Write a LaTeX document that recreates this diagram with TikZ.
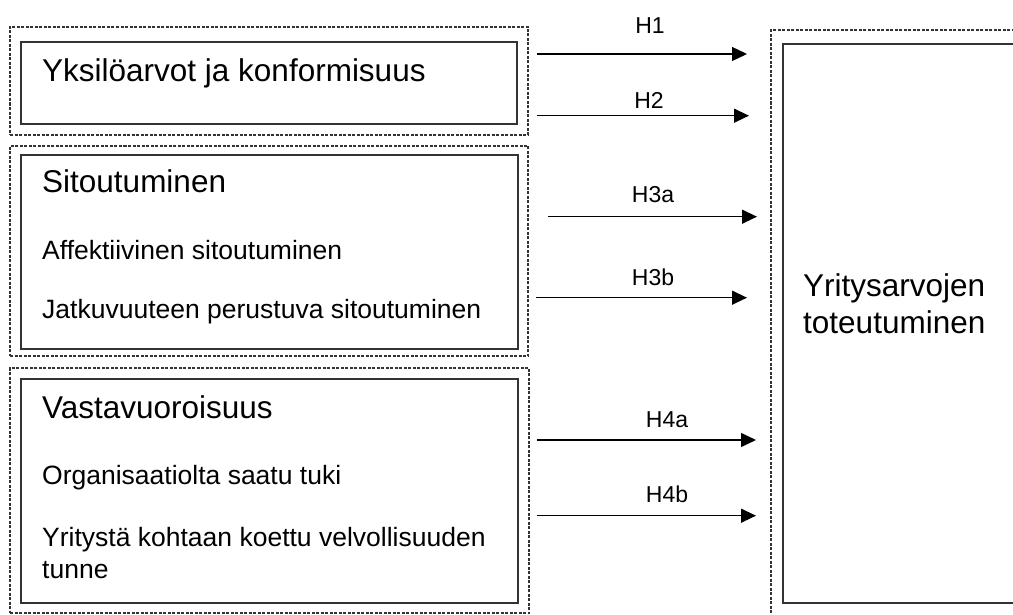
\documentclass[tikz,border=0pt]{standalone}
\usepackage{fontspec}
\setmainfont{Liberation Sans}
\usetikzlibrary{arrows.meta}
\begin{document}
\begin{tikzpicture}[x=1pt,y=-1pt,
  outer/.style={draw=black!80, line width=1.1pt, dash pattern=on 3pt off 1.5pt, inner sep=0pt, outer sep=0pt},
  inner/.style={draw=black!80, line width=1.8pt, inner sep=0pt, outer sep=0pt},
  title/.style={anchor=base west, font=\fontsize{31.5}{37}\selectfont, inner sep=0pt},
  item/.style={anchor=base west, font=\fontsize{26.5}{32}\selectfont, inner sep=0pt},
  hyp/.style={font=\fontsize{23}{26}\selectfont, inner sep=0pt},
  arr/.style={line width=1.4pt, -{Triangle[length=15pt,width=14pt]}}]
\useasboundingbox (0,0) rectangle (1013,615);
\clip (0,0) rectangle (1013,615);

% group frames (dashed) and construct boxes (solid)
\node[outer, minimum width=518pt, minimum height=108pt] (o1) at (269,81) {};
\node[inner, minimum width=496pt, minimum height=82pt]  (b1) at (269,83) {};
\node[outer, minimum width=518pt, minimum height=210pt] (o2) at (269,251) {};
\node[inner, minimum width=497pt, minimum height=194pt] (b2) at (269.5,252) {};
\node[outer, minimum width=519pt, minimum height=245pt] (o3) at (269.5,490.5) {};
\node[inner, minimum width=497pt, minimum height=224pt] (b3) at (269.5,491) {};
\node[outer, minimum width=269pt, minimum height=610pt] (o4) at (905.5,335) {};
\node[inner, minimum width=247pt, minimum height=559pt] (b4) at (906.5,323.5) {};

% texts
\node[title] (t1) at (42,82) {Yksilöarvot ja konformisuus};
\node[title] (t2) at (42,193) {Sitoutuminen};
\node[item]  (t2a) at (42,259) {Affektiivinen sitoutuminen};
\node[item]  (t2b) at (42,318) {Jatkuvuuteen perustuva sitoutuminen};
\node[title] (t3) at (42,418) {Vastavuoroisuus};
\node[item]  (t3a) at (42,484) {Organisaatiolta saatu tuki};
\node[item]  (t3b) at (42,546) {Yritystä kohtaan koettu velvollisuuden};
\node[item]  (t3c) at (42,578) {tunne};
\node[title] (t4) at (803,296) {Yritysarvojen};
\node[title] (t4b) at (803,333) {toteutuminen};

% hypothesis arrows
\coordinate (s1) at (537,54);    \coordinate (e1) at (747,54);
\coordinate (s2) at (537,115.7); \coordinate (e2) at (749,115.7);
\coordinate (s3) at (548,216.7); \coordinate (e3) at (757,216.7);
\coordinate (s4) at (536,297.7); \coordinate (e4) at (747,297.7);
\coordinate (s5) at (537,440);   \coordinate (e5) at (756,440);
\coordinate (s6) at (537,515.7); \coordinate (e6) at (756,515.7);
\draw[arr] (s1) -- (e1);
\draw[arr] (s2) -- (e2);
\draw[arr] (s3) -- (e3);
\draw[arr] (s4) -- (e4);
\draw[arr] (s5) -- (e5);
\draw[arr] (s6) -- (e6);
\node[hyp] (h1)  at (650,26)  {H1};
\node[hyp] (h2)  at (649,100) {H2};
\node[hyp] (h3a) at (653,195) {H3a};
\node[hyp] (h3b) at (653,277) {H3b};
\node[hyp] (h4a) at (667,420) {H4a};
\node[hyp] (h4b) at (667,494) {H4b};
\end{tikzpicture}
\end{document}
